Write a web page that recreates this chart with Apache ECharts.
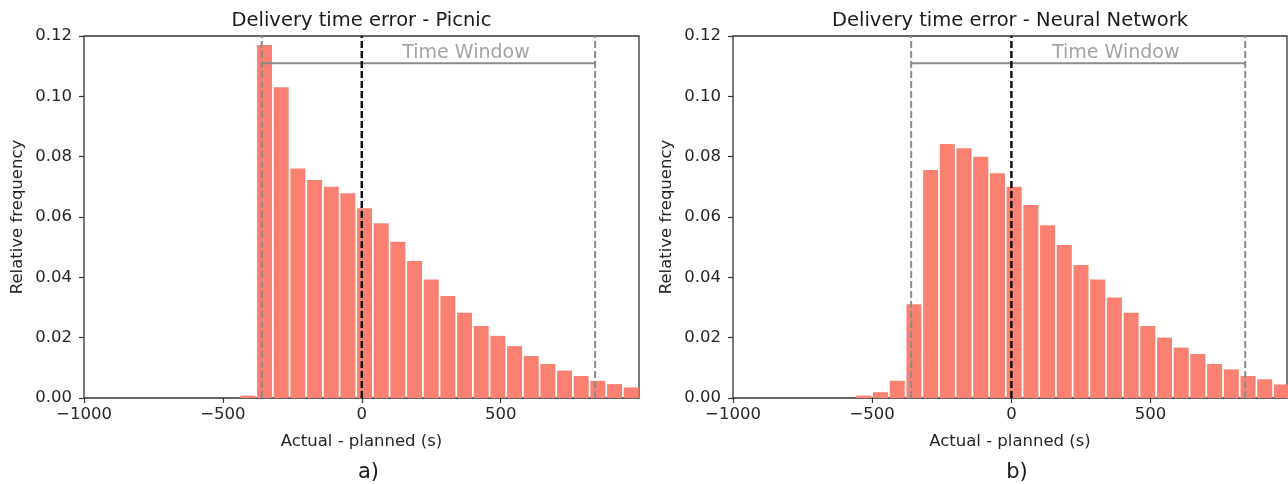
<!DOCTYPE html>
<html>
<head>
<meta charset="utf-8">
<title>Delivery time error</title>
<script src="https://cdn.jsdelivr.net/npm/echarts@6/dist/echarts.min.js"></script>
<style>
  html, body { margin: 0; padding: 0; background: #fff; }
  #chart { width: 1288px; height: 484px; }
</style>
</head>
<body>
<div id="chart"></div>
<script>
// histogram bins (left edge of each 60 s bin) and relative frequencies
const binWidth = 60
const picnicBins = [-440, -380, -320, -260, -200, -140, -80, -20, 40, 100, 160, 220,
  280, 340, 400, 460, 520, 580, 640, 700, 760, 820, 880, 940]
const picnicFreq = [0.0008, 0.117, 0.103, 0.0761, 0.0723, 0.0700, 0.0679, 0.0629, 0.0579, 0.0518, 0.0454, 0.0393,
  0.0338, 0.0283, 0.0239, 0.0206, 0.0172, 0.0139, 0.0113, 0.0091, 0.0073, 0.0057, 0.0046, 0.0035]

const nnBins = [-560, -500, -440, -380, -320, -260, -200, -140, -80, -20, 40, 100, 160,
  220, 280, 340, 400, 460, 520, 580, 640, 700, 760, 820, 880, 940]
const nnFreq = [0.0008, 0.0019, 0.0057, 0.0311, 0.0756, 0.0842, 0.0828, 0.0800, 0.0745, 0.0700, 0.0640, 0.0573, 0.0507,
  0.0441, 0.0393, 0.0333, 0.0283, 0.0239, 0.0200, 0.0167, 0.0146, 0.0113, 0.0095, 0.0073, 0.0062, 0.0045]

const titles = ['Delivery time error - Picnic', 'Delivery time error - Neural Network']
const panelLabels = ['a)', 'b)']
const xTicks = [-1000, -500, 0, 500]
const yTicks = [0, 0.02, 0.04, 0.06, 0.08, 0.10, 0.12]
const timeWindow = [-360, 840]
const windowLevel = 0.111
const windowText = { x: 375, y: 0.1145, text: 'Time Window' }

const FONT = 'DejaVu Sans'
const TXT = '#262626'

const grids = [
  { left: 84, top: 36, width: 555, height: 362, xMax: 998 },
  { left: 733, top: 36, width: 554, height: 362, xMax: 990 }
]

const fmtX = v => (v < 0 ? '\u2212' + Math.abs(v) : String(v))

// white gap between bars, like matplotlib's edgecolor='white'
const GAP = 1.7
const renderBar = (params, api) => {
  const topLeft = api.coord([api.value(0), api.value(2)])
  const bottomRight = api.coord([api.value(1), 0])
  return {
    type: 'rect',
    shape: {
      x: topLeft[0] + GAP / 2,
      y: topLeft[1],
      width: bottomRight[0] - topLeft[0] - GAP,
      height: bottomRight[1] - topLeft[1]
    },
    style: { fill: '#FA8072' }
  }
}

const buildPanel = (idx, bins, freq) => {
  const yMax = yTicks[yTicks.length - 1]
  const barData = bins.map((b, i) => [b, b + binWidth, freq[i]])
  const vline = (x, color, width) => ({
    type: 'line',
    xAxisIndex: idx,
    yAxisIndex: idx,
    data: [[x, 0], [x, yMax]],
    symbol: 'none',
    silent: true,
    z: 5,
    lineStyle: { color, width, type: [7, 3] }
  })
  return [
    {
      type: 'custom',
      xAxisIndex: idx,
      yAxisIndex: idx,
      renderItem: renderBar,
      encode: { x: [0, 1], y: 2 },
      data: barData,
      z: 2
    },
    vline(timeWindow[0], '#8a8a8a', 2),
    vline(timeWindow[1], '#8a8a8a', 2),
    vline(0, '#111', 2.5),
    {
      type: 'line',
      xAxisIndex: idx,
      yAxisIndex: idx,
      data: [[timeWindow[0], windowLevel], [timeWindow[1], windowLevel]],
      symbol: 'none',
      silent: true,
      z: 4,
      lineStyle: { color: '#8a8a8a', width: 2 }
    },
    {
      type: 'scatter',
      xAxisIndex: idx,
      yAxisIndex: idx,
      data: [[windowText.x, windowText.y]],
      symbolSize: 0,
      silent: true,
      z: 6,
      label: {
        show: true,
        position: 'inside',
        formatter: windowText.text,
        color: '#8c8c8c',
        fontFamily: FONT,
        fontSize: 19
      }
    }
  ]
}

const chart = echarts.init(document.getElementById('chart'), null, { renderer: 'canvas' })

const option = {
  animation: false,
  backgroundColor: '#fff',
  grid: grids.map(g => ({
    left: g.left, top: g.top, width: g.width, height: g.height,
    show: true, borderColor: '#333', borderWidth: 1.3, backgroundColor: 'transparent'
  })),
  xAxis: grids.map((g, i) => ({
    type: 'value',
    gridIndex: i,
    min: -1000,
    max: g.xMax,
    interval: 500,
    name: 'Actual - planned (s)',
    nameLocation: 'middle',
    nameGap: 35,
    nameTextStyle: { color: TXT, fontFamily: FONT, fontSize: 16.5 },
    axisLine: { show: false, onZero: false },
    splitLine: { show: false },
    axisTick: { show: true, length: 5, customValues: xTicks, lineStyle: { color: '#333', width: 1.2 } },
    axisLabel: { customValues: xTicks, formatter: fmtX, color: TXT, fontFamily: FONT, fontSize: 16.5, margin: 8 }
  })),
  yAxis: grids.map((g, i) => ({
    type: 'value',
    gridIndex: i,
    min: 0,
    max: 0.12,
    interval: 0.02,
    name: 'Relative frequency',
    nameLocation: 'middle',
    nameGap: 58,
    nameTextStyle: { color: TXT, fontFamily: FONT, fontSize: 16.5 },
    axisLine: { show: false, onZero: false },
    splitLine: { show: false },
    axisTick: { show: true, length: 5, lineStyle: { color: '#333', width: 1.2 } },
    axisLabel: { formatter: v => v.toFixed(2), color: TXT, fontFamily: FONT, fontSize: 16.5, margin: 12 }
  })),
  graphic: [
    ...titles.map((t, i) => ({
      type: 'text',
      x: grids[i].left + grids[i].width / 2,
      y: 21,
      style: { text: t, fill: '#1a1a1a', font: `19.5px "${FONT}"`, textAlign: 'center', textVerticalAlign: 'middle' }
    })),
    ...panelLabels.map((t, i) => ({
      type: 'text',
      x: grids[i].left + grids[i].width / 2 + 7,
      y: 473,
      style: { text: t, fill: '#1a1a1a', font: `21px "${FONT}"`, textAlign: 'center', textVerticalAlign: 'middle' }
    }))
  ],
  series: [
    ...buildPanel(0, picnicBins, picnicFreq),
    ...buildPanel(1, nnBins, nnFreq)
  ]
}

chart.setOption(option)
</script>
</body>
</html>
